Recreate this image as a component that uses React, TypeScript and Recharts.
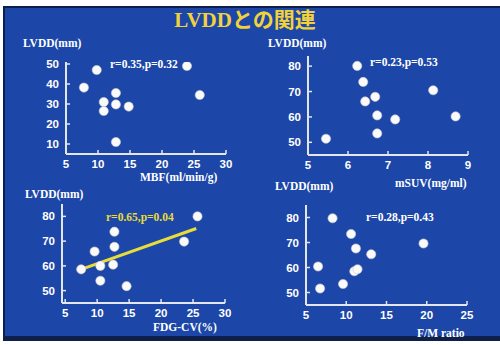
import React from "react";
import { ScatterChart, Scatter, XAxis, YAxis, ReferenceLine } from "recharts";

// MBF vs LVDD
const mbfX = [7.8, 9.8, 10.9, 10.9, 12.8, 12.8, 14.8, 12.8, 23.9, 25.9];
const mbfY = [38.2, 47, 31, 26.5, 35.5, 29.8, 28.7, 11, 49, 34.5];
// mSUV vs LVDD
const suvX = [6.23, 6.38, 6.43, 6.68, 6.73, 6.73, 7.18, 5.45, 8.13, 8.69];
const suvY = [80.1, 73.8, 66.1, 67.9, 60.6, 53.5, 59.0, 51.4, 70.5, 60.2];
// FDG-CV vs LVDD
const cvX = [7.5, 9.6, 10.5, 10.5, 12.7, 12.7, 12.5, 14.6, 23.6, 25.7];
const cvY = [58.6, 65.8, 60, 54, 73.8, 67.7, 60.5, 51.8, 69.8, 80];
const cvFit = [
  { x: 7.5, y: 58.6 },
  { x: 25.5, y: 75.1 },
];
// F/M ratio vs LVDD
const fmX = [8.3, 6.5, 6.75, 9.6, 10.6, 11.2, 11.0, 11.4, 13.1, 19.6];
const fmY = [79.7, 60.4, 51.6, 53.4, 73.4, 67.6, 58.5, 59.3, 65.3, 69.6];

const ticksA = [5, 10, 15, 20, 25, 30];
const ticksB = [5, 6, 7, 8, 9];
const ticksC = [5, 10, 15, 20, 25];
const yTicksA = [10, 20, 30, 40, 50];
const yTicksB = [50, 60, 70, 80];

const BLUE = "#1c46a8";
const AXIS = "#e4e6ee";
const YELLOW = "#e8dc3a";
const serif = "'Liberation Serif', 'Times New Roman', serif";
const sans = "'Liberation Sans', Arial, sans-serif";

const pairs = (xs: number[], ys: number[]) => xs.map((x, i) => ({ x, y: ys[i] }));

const YTick = (props: any) => {
  const { x, y, payload } = props;
  return (
    <g>
      <text x={x} y={y} dy="0.35em" textAnchor="end" fill="#fff" fontFamily={sans} fontWeight="bold" fontSize={11.5}>
        {payload.value}
      </text>
      <line x1={x + 7} x2={x + 11} y1={y} y2={y} stroke={AXIS} strokeWidth={1.5} />
    </g>
  );
};

const XTick = (props: any) => {
  const { x, y, payload } = props;
  return (
    <g>
      <text x={x} y={y} dy="0.71em" textAnchor="middle" fill="#fff" fontFamily={sans} fontWeight="bold" fontSize={11.5}>
        {payload.value}
      </text>
      <line x1={x} x2={x} y1={y - 6} y2={y - 10} stroke={AXIS} strokeWidth={1.5} />
    </g>
  );
};

const Dot = (props: any) => <circle cx={props.cx} cy={props.cy} r={4.6} fill="#fafafa" stroke="#c8c8d0" strokeWidth={0.6} />;

type PanelProps = {
  left: number;
  top: number;
  w: number;
  h: number;
  xDomain: [number, number];
  yDomain: [number, number];
  xTicks: number[];
  yTicks: number[];
  data: { x: number; y: number }[];
  fit?: { x: number; y: number }[];
};

function Panel({ left, top, w, h, xDomain, yDomain, xTicks, yTicks, data, fit }: PanelProps) {
  const yw = 30;
  const xh = 24;
  const m = { top: 8, right: 8, bottom: 0, left: 0 };
  return (
    <div style={{ position: "absolute", left: left - yw, top: top - m.top }}>
      <ScatterChart width={w + yw + m.right} height={h + xh + m.top} margin={m}>
        <XAxis
          type="number"
          dataKey="x"
          domain={xDomain}
          ticks={xTicks}
          interval={0}
          height={xh}
          tick={<XTick />}
          tickLine={false}
          tickSize={0}
          tickMargin={6}
          axisLine={{ stroke: AXIS, strokeWidth: 2 }}
          allowDataOverflow
        />
        <YAxis
          type="number"
          dataKey="y"
          domain={yDomain}
          ticks={yTicks}
          interval={0}
          width={yw}
          tick={<YTick />}
          tickLine={false}
          tickSize={0}
          tickMargin={7}
          axisLine={{ stroke: AXIS, strokeWidth: 2 }}
          allowDataOverflow
        />
        {fit && (
          <ReferenceLine segment={fit} stroke={YELLOW} strokeWidth={3} ifOverflow="visible" />
        )}
        <Scatter data={data} shape={<Dot />} isAnimationActive={false} />
      </ScatterChart>
    </div>
  );
}

const Label = ({ x, y, text, color = "#fff", size = 11.5 }: { x: number; y: number; text: string; color?: string; size?: number }) => (
  <div
    style={{
      position: "absolute",
      left: x,
      top: y - 8,
      height: 16,
      lineHeight: "16px",
      whiteSpace: "nowrap",
      color,
      fontFamily: serif,
      fontWeight: "bold",
      fontSize: size,
    }}
  >
    {text}
  </div>
);

export default function App() {
  return (
    <div style={{ position: "absolute", left: 0, top: 0, width: 500, height: 345, background: "#fff", overflow: "hidden" }}>
      <div style={{ position: "absolute", left: 3, top: 6, width: 497, height: 335, background: "#0f1f4c" }} />
      <div style={{ position: "absolute", left: 5, top: 8, width: 495, height: 328, background: BLUE }} />
      <div
        style={{
          position: "absolute",
          left: 0,
          width: 490,
          top: 8,
          height: 24,
          lineHeight: "24px",
          textAlign: "center",
          color: "#f2d23a",
          fontFamily: "'Liberation Serif', 'Noto Sans CJK JP', serif",
          fontWeight: "bold",
          fontSize: 21,
        }}
      >
        LVDDとの関連
      </div>

      <Panel left={66} top={62} w={160} h={92} xDomain={[5, 30]} yDomain={[5, 51]} xTicks={ticksA} yTicks={yTicksA} data={pairs(mbfX, mbfY)} />
      <Panel left={308} top={56} w={160} h={99} xDomain={[5, 9]} yDomain={[45, 84]} xTicks={ticksB} yTicks={yTicksB} data={pairs(suvX, suvY)} />
      <Panel left={62} top={204} w={163} h={99} xDomain={[4.5, 30]} yDomain={[45, 85]} xTicks={ticksA} yTicks={yTicksB} data={pairs(cvX, cvY)} fit={cvFit} />
      <Panel left={306} top={205} w={161} h={100} xDomain={[5, 25]} yDomain={[45, 85]} xTicks={ticksC} yTicks={yTicksB} data={pairs(fmX, fmY)} />

      <Label x={23} y={43} text="LVDD(mm)" />
      <Label x={110} y={64} text="r=0.35,p=0.32" />
      <Label x={140} y={177} text="MBF(ml/min/g)" />

      <Label x={268} y={43} text="LVDD(mm)" />
      <Label x={370} y={62} text="r=0.23,p=0.53" />
      <Label x={395} y={183} text="mSUV(mg/ml)" />

      <Label x={25} y={194} text="LVDD(mm)" />
      <Label x={106} y={217} text="r=0.65,p=0.04" color={YELLOW} />
      <Label x={153} y={327} text="FDG-CV(%)" />

      <Label x={275} y={186} text="LVDD(mm)" />
      <Label x={366} y={217} text="r=0.28,p=0.43" />
      <Label x={417} y={333} text="F/M ratio" />
    </div>
  );
}
